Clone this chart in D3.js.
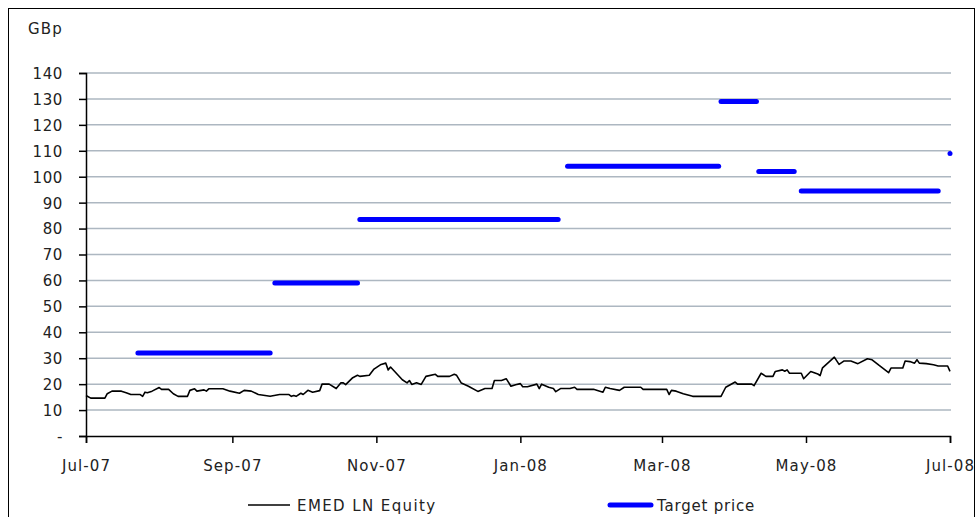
<!DOCTYPE html>
<meta charset="utf-8">
<style>
    body { margin: 0; background: #fff; }
    svg text { font-family: "DejaVu Sans", sans-serif; font-size: 15px; letter-spacing: 0.6px; fill: #222; }
    .xlab text { letter-spacing: 1.1px; }
    .legend text { letter-spacing: 1.4px; }
    .grid line { stroke: #adb7c1; stroke-width: 1.5; }
</style>
<body>
<div id="plotarea"></div>
<script src="https://cdn.jsdelivr.net/npm/d3@7"></script>
<script>

// EMED LN Equity close (GBp)
var equityDates = [
    "2007-07-01","2007-07-03","2007-07-09","2007-07-10","2007-07-12","2007-07-16","2007-07-18","2007-07-20",
    "2007-07-24","2007-07-25","2007-07-26","2007-07-27","2007-07-29","2007-08-01","2007-08-02","2007-08-05",
    "2007-08-07","2007-08-09","2007-08-13","2007-08-14","2007-08-16","2007-08-17","2007-08-20","2007-08-21",
    "2007-08-22","2007-08-28","2007-08-31","2007-09-04","2007-09-06","2007-09-09","2007-09-12","2007-09-17",
    "2007-09-21","2007-09-25","2007-09-26","2007-09-27","2007-09-28","2007-09-30","2007-10-01","2007-10-03",
    "2007-10-05","2007-10-08","2007-10-09","2007-10-12","2007-10-15","2007-10-17","2007-10-18","2007-10-19",
    "2007-10-22","2007-10-24","2007-10-25","2007-10-29","2007-10-31","2007-11-03","2007-11-05","2007-11-06",
    "2007-11-07","2007-11-12","2007-11-14","2007-11-15","2007-11-16","2007-11-18","2007-11-20","2007-11-22",
    "2007-11-26","2007-11-27","2007-12-02","2007-12-04","2007-12-05","2007-12-07","2007-12-10","2007-12-14",
    "2007-12-17","2007-12-20","2007-12-21","2007-12-24","2007-12-26","2007-12-28","2007-12-30","2008-01-01",
    "2008-01-02","2008-01-04","2008-01-08","2008-01-09","2008-01-10","2008-01-13","2008-01-15","2008-01-16",
    "2008-01-18","2008-01-22","2008-01-24","2008-01-25","2008-02-01","2008-02-05","2008-02-06","2008-02-08",
    "2008-02-12","2008-02-14","2008-02-21","2008-02-22","2008-03-03","2008-03-04","2008-03-05","2008-03-07",
    "2008-03-10","2008-03-14","2008-03-26","2008-03-28","2008-04-01","2008-04-02","2008-04-08","2008-04-09",
    "2008-04-12","2008-04-14","2008-04-17","2008-04-18","2008-04-21","2008-04-22","2008-04-23","2008-04-24",
    "2008-04-29","2008-04-30","2008-05-03","2008-05-06","2008-05-07","2008-05-08","2008-05-13","2008-05-15",
    "2008-05-17","2008-05-20","2008-05-23","2008-05-27","2008-05-29","2008-06-01","2008-06-05","2008-06-06",
    "2008-06-11","2008-06-12","2008-06-14","2008-06-16","2008-06-17","2008-06-18","2008-06-21","2008-06-24",
    "2008-06-26","2008-06-30","2008-07-01"
];
var equityValues = [
    15.6,14.6,14.6,16.3,17.3,17.3,16.7,16.0,
    16.0,15.3,16.9,16.7,17.3,18.7,18.0,18.0,
    16.3,15.3,15.3,17.6,18.2,17.3,17.8,17.3,
    18.2,18.2,17.3,16.5,17.6,17.3,16.0,15.3,
    16.0,16.0,15.3,15.6,15.3,16.5,16.0,17.6,
    16.9,17.5,20.0,20.0,18.3,20.5,20.5,19.8,
    22.5,23.4,23.0,23.4,25.8,27.6,28.1,25.5,
    26.6,21.7,20.5,21.4,19.9,20.5,19.9,23.0,
    23.8,23.0,23.0,23.8,23.4,20.4,19.2,17.2,
    18.3,18.3,21.4,21.4,22.1,19.2,19.8,20.2,
    19.0,19.0,20.0,18.3,20.0,18.8,18.3,17.1,
    18.3,18.3,18.8,18.0,18.0,16.9,18.8,18.3,
    17.6,18.8,18.8,18.0,18.0,16.0,17.6,17.3,
    16.3,15.3,15.3,18.8,20.8,20.0,20.0,19.4,
    24.2,23.0,23.0,24.9,25.5,25.0,25.5,24.2,
    24.2,22.1,24.9,23.9,23.3,26.3,30.4,27.6,
    28.9,28.9,27.9,29.8,29.4,27.2,24.4,26.2,
    26.2,28.9,28.7,28.1,29.4,28.1,27.9,27.5,
    27.0,27.0,24.9
];

// Target price periods
var targetStarts = ["2007-07-23","2007-09-19","2007-10-25","2008-01-21","2008-03-26","2008-04-11","2008-04-29","2008-07-01"];
var targetEnds   = ["2007-09-17","2007-10-24","2008-01-17","2008-03-25","2008-04-10","2008-04-26","2008-06-26","2008-07-01"];
var targetValues = [32, 59, 83.5, 104, 129, 102, 94.5, 109];

var yTicks = [0, 10, 20, 30, 40, 50, 60, 70, 80, 90, 100, 110, 120, 130, 140];
var xTickDates = ["2007-07-01","2007-09-01","2007-11-01","2008-01-01","2008-03-01","2008-05-01","2008-07-01"];

var seriesNames = ["EMED LN Equity", "Target price"];
var unitLabel = "GBp";

var width = 976, height = 517;
var parse = d3.timeParse("%Y-%m-%d");

var x = d3.scaleTime()
        .domain([parse("2007-07-01"), parse("2008-07-01")])
        .range([86, 950]);

var y = d3.scaleLinear()
        .domain([0, 140])
        .range([436, 73]);

var svg = d3.select("#plotarea").append("svg")
        .attr("width", width)
        .attr("height", height);

// frame round the chart
svg.append("rect")
        .attr("x", 8.5).attr("y", 8.5)
        .attr("width", 966).attr("height", 530)
        .attr("fill", "none")
        .attr("stroke", "#000")
        .attr("stroke-width", 1);

svg.append("text")
        .attr("x", 28).attr("y", 34)
        .style("letter-spacing", "1.2px")
        .text(unitLabel);

// grid
svg.append("g")
        .attr("class", "grid")
        .selectAll("line")
        .data(yTicks.filter(function(d) { return d > 0; }))
        .enter().append("line")
        .attr("x1", 86).attr("x2", 951)
        .attr("y1", function(d) { return y(d); })
        .attr("y2", function(d) { return y(d); });

// y axis
var yAxis = svg.append("g")
        .attr("transform", "translate(86,0)")
        .call(d3.axisLeft(y)
                .tickValues(yTicks)
                .tickSize(7)
                .tickPadding(16)
                .tickFormat(function(d) { return d === 0 ? "-" : d; }));

// x axis
var xAxis = svg.append("g")
        .attr("class", "xlab")
        .attr("transform", "translate(0," + y(0) + ")")
        .call(d3.axisBottom(x)
                .tickValues(xTickDates.map(parse))
                .tickSize(7)
                .tickPadding(17)
                .tickFormat(d3.timeFormat("%b-%y")));

[yAxis, xAxis].forEach(function(a) {
    a.select(".domain").attr("stroke", "#000").attr("stroke-width", 1.5);
    a.selectAll(".tick line").attr("stroke", "#000").attr("stroke-width", 1.5);
    a.selectAll("text").attr("font-family", null).attr("font-size", null).attr("fill", null);
    a.attr("font-family", null).attr("font-size", null);
});
yAxis.selectAll("text").attr("x", -23).attr("dy", "0.36em");

// equity line
var equity = equityDates.map(function(d, i) { return {date: parse(d), value: equityValues[i]}; });

var line = d3.line()
        .x(function(d) { return x(d.date); })
        .y(function(d) { return y(d.value); });

svg.append("path")
        .datum(equity)
        .attr("fill", "none")
        .attr("stroke", "#000")
        .attr("stroke-width", 1.6)
        .attr("stroke-linejoin", "round")
        .attr("d", line);

// target price segments
var targets = targetValues.map(function(v, i) {
    return {start: parse(targetStarts[i]), end: parse(targetEnds[i]), value: v};
});

svg.append("g")
        .selectAll("line")
        .data(targets)
        .enter().append("line")
        .attr("x1", function(d) { return x(d.start); })
        .attr("x2", function(d) { return x(d.end); })
        .attr("y1", function(d) { return y(d.value); })
        .attr("y2", function(d) { return y(d.value); })
        .attr("stroke", "#0000ff")
        .attr("stroke-width", 5)
        .attr("stroke-linecap", "round");

// legend
var legend = svg.append("g").attr("class", "legend");

legend.append("line")
        .attr("x1", 248).attr("x2", 290)
        .attr("y1", 505).attr("y2", 505)
        .attr("stroke", "#000").attr("stroke-width", 1.6);
legend.append("text")
        .attr("x", 297).attr("y", 511)
        .text(seriesNames[0]);

legend.append("line")
        .attr("x1", 610).attr("x2", 651)
        .attr("y1", 505).attr("y2", 505)
        .attr("stroke", "#0000ff").attr("stroke-width", 5)
        .attr("stroke-linecap", "round");
legend.append("text")
        .attr("x", 657).attr("y", 511)
        .style("letter-spacing", "0.8px")
        .text(seriesNames[1]);

</script>
